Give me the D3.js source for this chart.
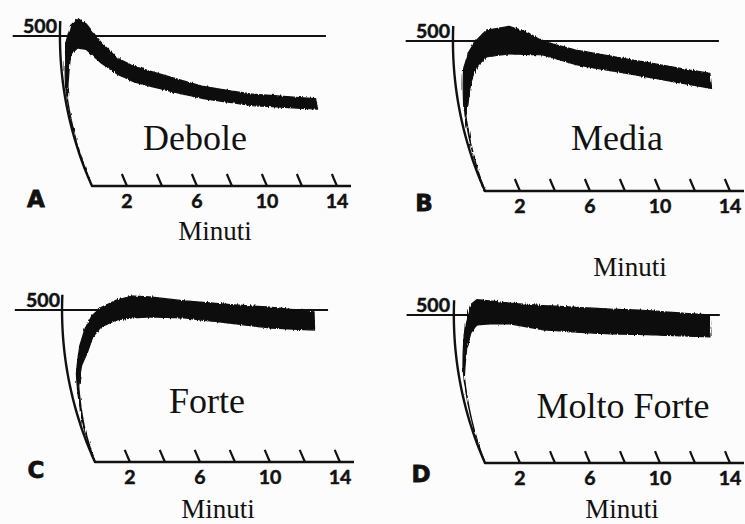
<!DOCTYPE html>
<html>
<head>
<meta charset="utf-8">
<script src="https://cdn.jsdelivr.net/npm/d3@7"></script>
<style>
  body { margin: 0; background: #fcfcfc; }
  svg { display: block; }
</style>
</head>
<body>
<svg width="745" height="524"></svg>
<script>
// four pen recordings on curvilinear paper
var width = 745;
var height = 524;

var letters = ['A', 'B', 'C', 'D'];
var names = ['Debole', 'Media', 'Forte', 'Molto Forte'];
var axisTitle = 'Minuti';
var tickMinutes = [2, 4, 6, 8, 10, 12, 14];
var tickLabels = [2, 6, 10, 14];
var refValue = 500;
var refMinutes = [-2.7, 15.2];
var axisTop = 550;
var baseEnd = 14.8;

// trace band: minutes, upper edge, lower edge
var timeA = [0, 0.12, 0.35, 0.6, 1.0, 1.5, 2.3, 3.2, 4.1, 6.0, 7.9, 10.6, 14.3];
var hiA   = [0, 330, 480, 535, 558, 540, 482, 428, 400, 366, 333, 307, 291];
var loA   = [0, 290, 360, 440, 460, 455, 410, 372, 346, 317, 291, 268, 256];

var timeB = [0, 0.3, 0.55, 0.9, 1.3, 1.9, 3.2, 4.2, 5.1, 7.0, 10.8, 14.6];
var hiB   = [0, 290, 408, 464, 500, 536, 549, 530, 500, 470, 431, 392];
var loB   = [0, 250, 290, 365, 415, 447, 457, 455, 454, 421, 382, 342];

var timeC = [0, 0.2, 0.5, 0.9, 1.3, 1.7, 2.2, 3.1, 4.0, 5.0, 7.0, 9.8, 12.0, 14.4];
var hiC   = [0, 150, 290, 380, 440, 480, 507, 533, 546, 543, 530, 517, 509, 494];
var loC   = [0, 120, 250, 320, 359, 411, 444, 467, 474, 477, 474, 455, 440, 434];

var timeD = [0, 0.3, 0.65, 0.95, 1.3, 2.0, 3.2, 5.1, 7.0, 8.9, 10.8, 12.7, 14.6];
var hiD   = [0, 320, 470, 535, 552, 548, 540, 532, 526, 520, 516, 508, 500];
var loD   = [0, 290, 386, 440, 466, 470, 470, 450, 442, 436, 434, 430, 426];

var series = [
  { time: timeA, hi: hiA, lo: loA },
  { time: timeB, hi: hiB, lo: loB },
  { time: timeC, hi: hiC, lo: loC },
  { time: timeD, hi: hiD, lo: loD }
];

// where each panel sits on the page
var layout = [
  { x0: 92,  y0: 186, top: 36,  name: [195, 150], title: [215, 240], letter: [36, 207] },
  { x0: 485, y0: 191, top: 41,  name: [617, 150], title: [630, 276], letter: [424, 211] },
  { x0: 95,  y0: 462, top: 310, name: [207, 413], title: [218, 518], letter: [36, 478] },
  { x0: 485, y0: 463, top: 315, name: [623, 418], title: [622, 518], letter: [421, 482] }
];

var penRadius = 367;
var svg = d3.select('svg');

svg.append('rect')
  .attr('width', width)
  .attr('height', height)
  .attr('fill', '#fcfcfc');

// slightly ragged pen edge, like the scanned trace
var rough = svg.append('defs').append('filter')
  .attr('id', 'rough')
  .attr('x', '-5%').attr('y', '-20%')
  .attr('width', '110%').attr('height', '140%');
rough.append('feTurbulence')
  .attr('type', 'fractalNoise')
  .attr('baseFrequency', '0.7 0.08')
  .attr('numOctaves', 2)
  .attr('seed', 3)
  .attr('result', 'noise');
rough.append('feDisplacementMap')
  .attr('in', 'SourceGraphic')
  .attr('in2', 'noise')
  .attr('scale', 3)
  .attr('xChannelSelector', 'R')
  .attr('yChannelSelector', 'G');

function densify(pts, n) {
  var out = [];
  for (var i = 0; i < pts.length - 1; i++) {
    for (var k = 0; k < n; k++) {
      var f = k / n;
      out.push([pts[i][0] + (pts[i + 1][0] - pts[i][0]) * f,
                pts[i][1] + (pts[i + 1][1] - pts[i][1]) * f]);
    }
  }
  out.push(pts[pts.length - 1]);
  return out;
}

layout.forEach(function(p, i) {
  var xScale = d3.scaleLinear().domain([0, 14]).range([p.x0, p.x0 + 245]);
  var yScale = d3.scaleLinear().domain([0, refValue]).range([p.y0, p.top]);

  // pen swings on an arc, so high values drift to the left
  function arcX(v) {
    var dy = yScale(v) - p.top;
    return penRadius - Math.sqrt(penRadius * penRadius - dy * dy);
  }
  function proj(d) {
    return [xScale(d[0]) + arcX(d[1]) - arcX(0), yScale(d[1])];
  }
  var line = d3.line().x(d => proj(d)[0]).y(d => proj(d)[1]);

  var g = svg.append('g');

  // reference line at 500
  g.append('path')
    .attr('d', line(refMinutes.map(t => [t, refValue])))
    .attr('fill', 'none')
    .attr('stroke', '#111')
    .attr('stroke-width', 2.2);

  // curved axis and baseline
  var axisPts = d3.range(axisTop, -1, -10).map(v => [0, v]);
  axisPts.push([baseEnd, 0]);
  g.append('path')
    .attr('d', line(axisPts))
    .attr('fill', 'none')
    .attr('stroke', '#111')
    .attr('stroke-width', 2.4)
    .attr('stroke-linejoin', 'round');

  // minute marks follow the pen arc too
  g.selectAll('.tick')
    .data(tickMinutes)
    .enter()
    .append('path')
      .attr('d', t => line(d3.range(0, 41, 5).map(v => [t, v])))
      .attr('fill', 'none')
      .attr('stroke', '#111')
      .attr('stroke-width', 2.2);

  g.selectAll('.tickLabel')
    .data(tickLabels)
    .enter()
    .append('text')
      .attr('x', t => xScale(t))
      .attr('y', p.y0 + 22)
      .style('text-anchor', 'middle')
      .style('font-family', 'Lato, sans-serif')
      .style('font-weight', 700)
      .style('font-size', '19.5px')
      .attr('fill', '#111')
      .attr('stroke', '#111')
      .attr('stroke-width', 0.5)
      .text(t => t);

  g.append('text')
    .attr('x', p.x0 - 35)
    .attr('y', p.top - 3)
    .style('text-anchor', 'end')
    .style('font-family', 'Lato, sans-serif')
    .style('font-weight', 700)
    .style('font-size', '19.5px')
    .attr('fill', '#111')
    .attr('stroke', '#111')
    .attr('stroke-width', 0.5)
    .text(refValue);

  // the recorded band
  var s = series[i];
  var upper = s.time.map((t, j) => [t, s.hi[j]]);
  var lower = s.time.map((t, j) => [t, s.lo[j]]).reverse();
  var band = densify(upper, 8).concat(densify(lower, 8));
  g.append('path')
    .attr('d', line(band) + 'Z')
    .attr('fill', '#0d0d0d')
    .attr('stroke', '#0d0d0d')
    .attr('stroke-width', 1.2)
    .attr('stroke-linejoin', 'round')
    .attr('filter', 'url(#rough)');

  g.append('text')
    .attr('x', p.name[0])
    .attr('y', p.name[1])
    .style('text-anchor', 'middle')
    .style('font-family', '"Liberation Serif", serif')
    .style('font-size', '36px')
    .attr('fill', '#111')
    .text(names[i]);

  g.append('text')
    .attr('x', p.title[0])
    .attr('y', p.title[1])
    .style('text-anchor', 'middle')
    .style('font-family', '"Liberation Serif", serif')
    .style('font-size', '27px')
    .attr('fill', '#111')
    .text(axisTitle);

  g.append('text')
    .attr('x', p.letter[0])
    .attr('y', p.letter[1])
    .style('text-anchor', 'middle')
    .style('font-family', '"DejaVu Sans", sans-serif')
    .style('font-weight', 700)
    .style('font-size', '23px')
    .attr('fill', '#111')
    .attr('stroke', '#111')
    .attr('stroke-width', 0.8)
    .text(letters[i]);
});
</script>
</body>
</html>
